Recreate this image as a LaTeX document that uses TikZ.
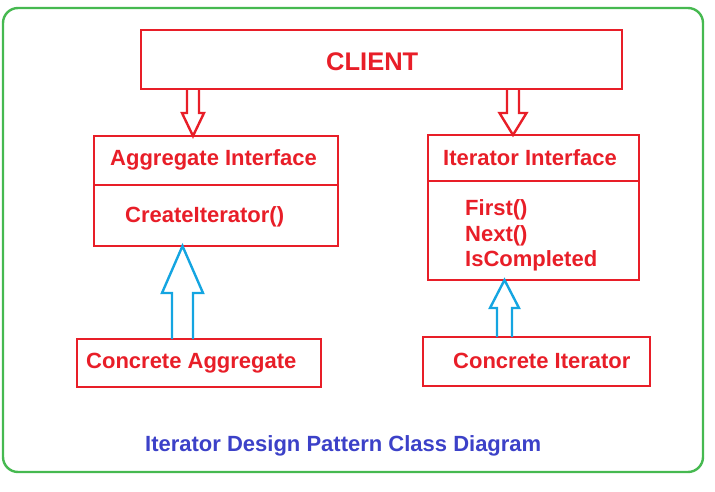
\documentclass[tikz,border=0pt]{standalone}
\usepackage{fontspec}
\setmainfont{Liberation Sans}
\usetikzlibrary{calc}
\definecolor{boxred}{RGB}{232,30,40}
\definecolor{arrblue}{RGB}{20,165,225}
\definecolor{titleblue}{RGB}{60,65,200}
\definecolor{framegreen}{RGB}{70,185,80}
\newcommand{\blockarrow}[6]{%
  \path (#3) coordinate (tipP) ($(#3)!#6!(#2)$) coordinate (hbP);
  \draw[#1] ($(#2)!#4!90:(#3)$) -- ($(hbP)!#4!90:(tipP)$) -- ($(hbP)!#5!90:(tipP)$)
    -- (tipP) -- ($(hbP)!#5!-90:(tipP)$) -- ($(hbP)!#4!-90:(tipP)$) -- ($(#2)!#4!-90:(#3)$);
}
\begin{document}
\begin{tikzpicture}[x=1pt,y=-1pt,
  box/.style={draw=boxred, line width=2.7pt, inner sep=0pt, outer sep=0pt},
  divider/.style={draw=boxred, line width=2.7pt},
  lbl/.style={text=boxred, inner sep=0pt, anchor=base west, font=\fontsize{22}{26}\selectfont\bfseries},
  redarrow/.style={draw=boxred, line width=2.4pt, line join=miter},
  bluearrow/.style={draw=arrblue, line width=2.4pt, line join=miter},
  frame/.style={draw=framegreen, line width=2.4pt, rounded corners=15pt}]
\useasboundingbox (0,0) rectangle (715,492);
\draw[frame] (3,8) rectangle (703,472);

% boxes
\node[box, minimum width=481pt, minimum height=59pt] (client) at (381.5,59.5) {};
\node[box, minimum width=244pt, minimum height=110pt] (agg) at (216,191) {};
\node[box, minimum width=211pt, minimum height=145pt] (iter) at (533.5,207.5) {};
\node[box, minimum width=244pt, minimum height=48pt] (cagg) at (199,363) {};
\node[box, minimum width=227pt, minimum height=49pt] (citer) at (536.5,361.5) {};

\draw[divider] (agg.west |- 0,185) -- (agg.east |- 0,185);
\draw[divider] (iter.west |- 0,181) -- (iter.east |- 0,181);

% texts
\node[lbl, font=\fontsize{25.5}{30}\selectfont\bfseries] (tclient) at (326,71) {CLIENT};
\node[lbl] (tagg) at (110,166) {Aggregate Interface};
\node[lbl] (tcreate) at (125,222) {CreateIterator()};
\node[lbl] (titer) at (443,166) {Iterator Interface};
\node[lbl] (tfirst) at (465,215) {First()};
\node[lbl] (tnext) at (465,241) {Next()};
\node[lbl] (tcomp) at (465,266) {IsCompleted};
\node[lbl] (tcagg) at (86,368) {Concrete Aggregate};
\node[lbl] (tciter) at (453,368) {Concrete Iterator};
\node[lbl, text=titleblue] (title) at (145,451) {Iterator Design Pattern Class Diagram};

% arrow end points
\coordinate (a1s) at (client.south -| 193,0);
\coordinate (a1e) at (agg.north -| 193,0);
\coordinate (a2s) at (client.south -| 513,0);
\coordinate (a2e) at (iter.north -| 513,0);
\coordinate (a3s) at (cagg.north -| 182.5,0);
\coordinate (a3e) at (agg.south -| 182.5,0);
\coordinate (a4s) at (citer.north -| 504.5,0);
\coordinate (a4e) at (iter.south -| 504.5,0);

\blockarrow{redarrow}{a1s}{a1e}{6pt}{11pt}{23pt}
\blockarrow{redarrow}{a2s}{a2e}{6pt}{13.5pt}{22pt}
\blockarrow{bluearrow}{a3s}{a3e}{10.5pt}{20.5pt}{47pt}
\blockarrow{bluearrow}{a4s}{a4e}{7.5pt}{14.5pt}{28pt}
\end{tikzpicture}
\end{document}
